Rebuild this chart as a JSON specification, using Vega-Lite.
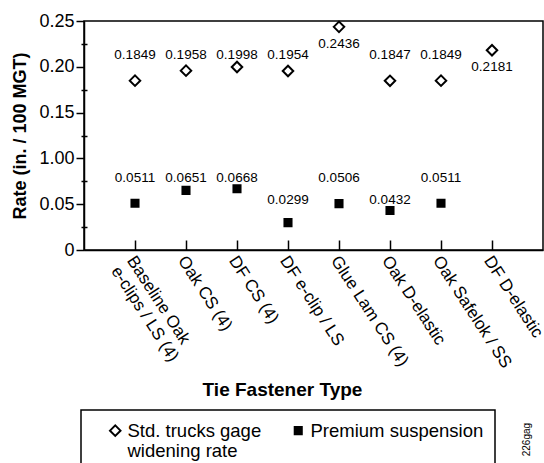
{
  "$schema": "https://vega.github.io/schema/vega-lite/v6.json",
  "width": 459,
  "height": 229,
  "autosize": {"type": "none"},
  "padding": {"left": 84, "top": 21, "right": 1, "bottom": 213},
  "background": "white",
  "config": {
    "font": "Liberation Sans",
    "view": {"stroke": "black", "strokeWidth": 1.5},
    "axis": {
      "domainColor": "black", "domainWidth": 1.5,
      "tickColor": "black", "tickWidth": 1.5,
      "labelColor": "black", "titleColor": "black",
      "grid": false
    },
    "legend": {
      "orient": "none",
      "legendX": -3,
      "legendY": 389,
      "direction": "horizontal",
      "columns": 2,
      "strokeColor": "black",
      "strokeWidth": 1.5,
      "padding": 11,
      "symbolOffset": 14,
      "labelFontSize": 18.5,
      "labelColor": "black",
      "labelOffset": 3,
      "labelBaseline": "middle",
      "columnPadding": 13,
      "rowPadding": 0,
      "symbolStrokeWidth": 2,
      "labelLimit": 0
    }
  },
  "data": {
    "values": [
      {"type": "Baseline Oak e-clips / LS (4)", "series": "Std. trucks gage widening rate", "rate": 0.1849},
      {"type": "Oak CS (4)", "series": "Std. trucks gage widening rate", "rate": 0.1958},
      {"type": "DF CS (4)", "series": "Std. trucks gage widening rate", "rate": 0.1998},
      {"type": "DF e-clip / LS", "series": "Std. trucks gage widening rate", "rate": 0.1954},
      {"type": "Glue Lam CS (4)", "series": "Std. trucks gage widening rate", "rate": 0.2436},
      {"type": "Oak D-elastic", "series": "Std. trucks gage widening rate", "rate": 0.1847},
      {"type": "Oak Safelok / SS", "series": "Std. trucks gage widening rate", "rate": 0.1849},
      {"type": "DF D-elastic", "series": "Std. trucks gage widening rate", "rate": 0.2181},
      {"type": "Baseline Oak e-clips / LS (4)", "series": "Premium suspension", "rate": 0.0511},
      {"type": "Oak CS (4)", "series": "Premium suspension", "rate": 0.0651},
      {"type": "DF CS (4)", "series": "Premium suspension", "rate": 0.0668},
      {"type": "DF e-clip / LS", "series": "Premium suspension", "rate": 0.0299},
      {"type": "Glue Lam CS (4)", "series": "Premium suspension", "rate": 0.0506},
      {"type": "Oak D-elastic", "series": "Premium suspension", "rate": 0.0432},
      {"type": "Oak Safelok / SS", "series": "Premium suspension", "rate": 0.0511}
    ]
  },
  "resolve": {"axis": {"y": "independent", "x": "independent"}},
  "layer": [
    {
      "mark": {"type": "point", "filled": true, "strokeWidth": 2, "opacity": 1},
      "encoding": {
        "x": {
          "field": "type", "type": "nominal", "sort": null,
          "scale": {"type": "point", "padding": 1},
          "axis": {
            "title": "Tie Fastener Type",
            "titleFontSize": 19, "titleFontWeight": "bold",
            "titleX": 198, "titleY": 139, "titleBaseline": "middle", "titleAlign": "center",
            "labelAngle": 57, "labelAlign": "left", "labelBaseline": "top",
            "labelFontSize": 17, "labelPadding": 3, "labelOffset": 2, "ticks": false,
            "labelOverlap": false, "labelLimit": 0,
            "labelExpr": "datum.value == 'Baseline Oak e-clips / LS (4)' ? ['Baseline Oak', 'e-clips / LS (4)'] : datum.label"
          }
        },
        "y": {
          "field": "rate", "type": "quantitative",
          "scale": {"domain": [0, 0.25]},
          "axis": {
            "orient": "left",
            "title": "Rate (in. / 100 MGT)",
            "titleFontSize": 18, "titleFontWeight": "bold",
            "titleX": -64, "titleBaseline": "middle",
            "values": [0, 0.05, 0.1, 0.15, 0.2, 0.25],
            "labelExpr": "datum.value == 0 ? '0' : abs(datum.value - 0.1) < 1e-9 ? '1.00' : format(datum.value, '.2f')",
            "labelFontSize": 18, "tickSize": 8, "labelPadding": 2
          }
        },
        "shape": {"field": "series", "type": "nominal", "title": null,
          "scale": {"domain": ["Std. trucks gage widening rate", "Premium suspension"], "range": ["diamond", "square"]},
          "legend": {"labelExpr": "datum.label == 'Std. trucks gage widening rate' ? ['Std. trucks gage', 'widening rate'] : [datum.label, '']"}},
        "fill": {"field": "series", "type": "nominal", "title": null,
          "scale": {"domain": ["Std. trucks gage widening rate", "Premium suspension"], "range": ["white", "black"]},
          "legend": {"labelExpr": "datum.label == 'Std. trucks gage widening rate' ? ['Std. trucks gage', 'widening rate'] : [datum.label, '']"}},
        "stroke": {"field": "series", "type": "nominal", "title": null,
          "scale": {"domain": ["Std. trucks gage widening rate", "Premium suspension"], "range": ["black", "black"]},
          "legend": {"labelExpr": "datum.label == 'Std. trucks gage widening rate' ? ['Std. trucks gage', 'widening rate'] : [datum.label, '']"}},
        "size": {"field": "series", "type": "nominal", "title": null,
          "scale": {"domain": ["Std. trucks gage widening rate", "Premium suspension"], "range": [110, 50]},
          "legend": {"labelExpr": "datum.label == 'Std. trucks gage widening rate' ? ['Std. trucks gage', 'widening rate'] : [datum.label, '']"}}
      }
    },
    {
      "transform": [{"filter": "datum.series == 'Std. trucks gage widening rate' && datum.rate < 0.21"}],
      "mark": {"type": "text", "fontSize": 13.5, "color": "black", "baseline": "middle"},
      "encoding": {
        "x": {
          "field": "type", "type": "nominal", "sort": null,
          "axis": {
            "orient": "bottom", "title": null, "labels": false, "domain": false,
            "tickSize": 10, "offset": -10
          }
        },
        "y": {"datum": 0.2129, "type": "quantitative", "scale": {"domain": [0, 0.25]}, "axis": null},
        "text": {"field": "rate", "type": "quantitative", "format": ".4f"}
      }
    },
    {
      "transform": [{"filter": "datum.series == 'Std. trucks gage widening rate' && datum.rate > 0.21"}],
      "mark": {"type": "text", "fontSize": 13.5, "color": "black", "baseline": "middle", "dy": 17},
      "encoding": {
        "x": {"field": "type", "type": "nominal", "sort": null, "axis": null},
        "y": {
          "field": "rate", "type": "quantitative", "scale": {"domain": [0, 0.25]},
          "axis": {
            "orient": "left", "title": null, "labels": false, "domain": false,
            "values": [0.025, 0.075, 0.125, 0.175, 0.225],
            "tickSize": 6, "offset": -3
          }
        },
        "text": {"field": "rate", "type": "quantitative", "format": ".4f"}
      }
    },
    {
      "transform": [{"filter": "datum.series == 'Premium suspension' && datum.rate >= 0.045"}],
      "mark": {"type": "text", "fontSize": 13.5, "color": "black", "baseline": "middle"},
      "encoding": {
        "x": {"field": "type", "type": "nominal", "sort": null, "axis": null},
        "y": {"datum": 0.0786, "type": "quantitative", "scale": {"domain": [0, 0.25]}, "axis": null},
        "text": {"field": "rate", "type": "quantitative", "format": ".4f"}
      }
    },
    {
      "transform": [{"filter": "datum.series == 'Premium suspension' && datum.rate < 0.045"}],
      "mark": {"type": "text", "fontSize": 13.5, "color": "black", "baseline": "middle"},
      "encoding": {
        "x": {"field": "type", "type": "nominal", "sort": null, "axis": null},
        "y": {"datum": 0.0546, "type": "quantitative", "scale": {"domain": [0, 0.25]}, "axis": null},
        "text": {"field": "rate", "type": "quantitative", "format": ".4f"}
      }
    },
    {
      "data": {"values": [{"note": "226gag"}]},
      "mark": {"type": "text", "fontSize": 10, "color": "black", "angle": 270, "align": "center", "baseline": "middle"},
      "encoding": {
        "x": {"datum": "DF D-elastic", "type": "nominal", "axis": null},
        "xOffset": {"value": 35},
        "y": {"datum": -0.207, "type": "quantitative", "scale": {"domain": [0, 0.25]}, "axis": null},
        "text": {"field": "note", "type": "nominal"}
      }
    }
  ]
}
